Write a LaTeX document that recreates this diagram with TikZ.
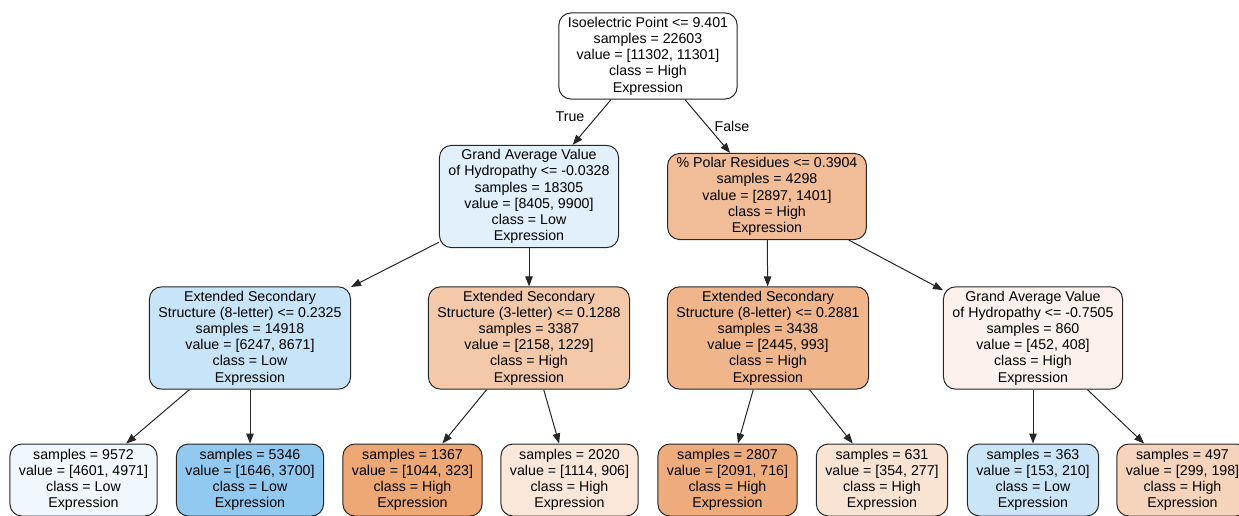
\documentclass[tikz,border=0pt]{standalone}
\usepackage{fontspec}
\setmainfont{Liberation Sans}
\usetikzlibrary{arrows.meta}
\definecolor{hi}{RGB}{229,129,57}
\definecolor{lo}{RGB}{57,157,229}

\begin{document}
\begin{tikzpicture}[x=1pt, y=-1pt,
  every node/.style={font=\fontsize{14.2pt}{16.2pt}\selectfont},
  tnode/.style={draw=black!85, line width=1pt, rounded corners=12pt, align=center, inner xsep=9pt, inner ysep=4pt},
  leaf/.style={tnode, minimum height=72pt},
  arr/.style={-{Triangle[length=10pt,width=7.5pt]}, line width=1pt, black!85}]
  \useasboundingbox (0,0) rectangle (1239,516);
  % Root split
  \node[tnode, fill=white] (root) at (648,56) {Isoelectric Point <= 9.401\\samples = 22603\\value = [11302, 11301]\\class = High\\Expression};

  % First level splits
  \node[tnode, fill=lo!15] (s1) at (529,196.5) {Grand Average Value\\of Hydropathy <= -0.0328\\samples = 18305\\value = [8405, 9900]\\class = Low\\Expression};
  \node[tnode, fill=hi!52] (s2) at (767,196.5) {\% Polar Residues <= 0.3904\\samples = 4298\\value = [2897, 1401]\\class = High\\Expression};

  % Second level splits
  \node[tnode, fill=lo!28] (s3) at (250,338) {Extended Secondary\\Structure (8-letter) <= 0.2325\\samples = 14918\\value = [6247, 8671]\\class = Low\\Expression};
  \node[tnode, fill=hi!43] (s4) at (529,338) {Extended Secondary\\Structure (3-letter) <= 0.1288\\samples = 3387\\value = [2158, 1229]\\class = High\\Expression};
  \node[tnode, fill=hi!59] (s5) at (768,338) {Extended Secondary\\Structure (8-letter) <= 0.2881\\samples = 3438\\value = [2445, 993]\\class = High\\Expression};
  \node[tnode, fill=hi!10] (s6) at (1033,338) {Grand Average Value\\of Hydropathy <= -0.7505\\samples = 860\\value = [452, 408]\\class = High\\Expression};

  % Leaves
  \node[leaf, fill=lo!7]  (l1) at (83.5,480)  {samples = 9572\\value = [4601, 4971]\\class = Low\\Expression};
  \node[leaf, fill=lo!55] (l2) at (250,480)   {samples = 5346\\value = [1646, 3700]\\class = Low\\Expression};
  \node[leaf, fill=hi!69] (l3) at (412.5,480) {samples = 1367\\value = [1044, 323]\\class = High\\Expression};
  \node[leaf, fill=hi!19] (l4) at (569.5,480) {samples = 2020\\value = [1114, 906]\\class = High\\Expression};
  \node[leaf, fill=hi!66] (l5) at (727.5,480) {samples = 2807\\value = [2091, 716]\\class = High\\Expression};
  \node[leaf, fill=hi!22] (l6) at (882,480)   {samples = 631\\value = [354, 277]\\class = High\\Expression};
  \node[leaf, fill=lo!27] (l7) at (1033,480)  {samples = 363\\value = [153, 210]\\class = Low\\Expression};
  \node[leaf, fill=hi!34] (l8) at (1182.5,480) {samples = 497\\value = [299, 198]\\class = High\\Expression};

  % Edge labels
  \node (ltrue) at (570,117) {True};
  \node (lfalse) at (732,126) {False};

  % Connections
  \draw[arr] (root) -- (s1);
  \draw[arr] (root) -- (s2);
  \draw[arr] (s1) -- (s3);
  \draw[arr] (s1) -- (s4);
  \draw[arr] (s2) -- (s5);
  \draw[arr] (s2) -- (s6);
  \draw[arr] (s3) -- (l1);
  \draw[arr] (s3) -- (l2);
  \draw[arr] (s4) -- (l3);
  \draw[arr] (s4) -- (l4);
  \draw[arr] (s5) -- (l5);
  \draw[arr] (s5) -- (l6);
  \draw[arr] (s6) -- (l7);
  \draw[arr] (s6) -- (l8);
\end{tikzpicture}
\end{document}
